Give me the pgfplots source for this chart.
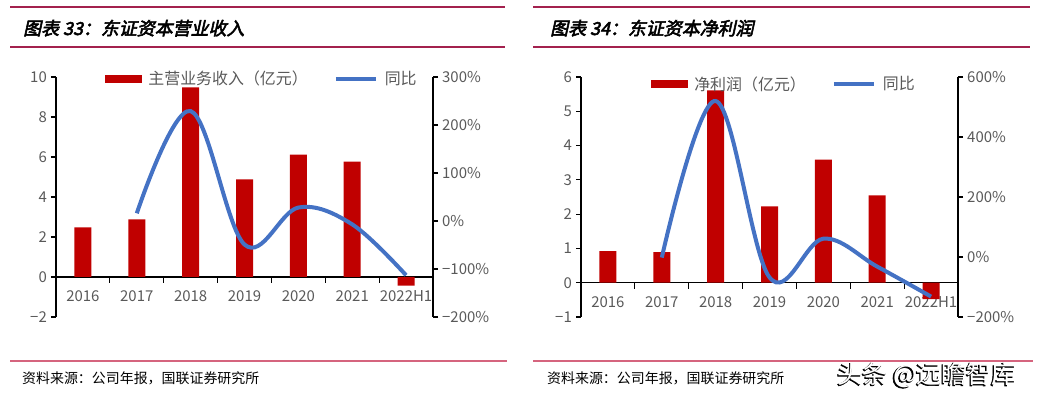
\documentclass[border=0pt]{standalone}
\usepackage{pgfplots}
\pgfplotsset{compat=1.18}
\usepackage{fontspec}
\setmainfont{Noto Sans CJK SC}
\newfontfamily\titlefont[FakeSlant=0.22,FakeBold=3]{Noto Sans CJK SC}
\newfontfamily\wmfont[FakeBold=2.5]{Noto Sans CJK SC}
\definecolor{barred}{HTML}{C00000}
\definecolor{lineblue}{HTML}{4472C4}
\definecolor{txtgray}{HTML}{595959}
\definecolor{hdrred}{HTML}{A3214E}
\definecolor{srcred}{HTML}{D5647E}

\pgfplotsset{
  common/.style={
    scale only axis, width=377bp, height=240bp,
    xmin=-0.5, xmax=6.5,
    axis line style={black, line width=1.1bp},
    tick style={black, line width=1.1bp},
    tick align=outside,
    major tick length=5bp,
    minor tick length=6bp,
    ticklabel style={font=\fontsize{15}{18}\selectfont, text=txtgray},
    yticklabel style={inner sep=4bp},
    clip=false,
  },
  barax/.style={
    common, axis y line*=left, axis x line*=middle,
    xtick={0,...,6}, xticklabels={2016,2017,2018,2019,2020,2021,2022H1},
    major x tick style={draw=none},
    minor xtick={0.5,1.5,2.5,3.5,4.5,5.5},
    xticklabel style={yshift=-5bp},
    ybar, bar width=17bp,
  },
  lineax/.style={
    common, axis y line*=right, axis x line=none,
    legend cell align=left,
    legend style={draw=none, fill=none, legend columns=2,
      font=\fontsize{16}{19}\selectfont, text=txtgray,
      /tikz/every odd column/.append style={column sep=5bp},
      /tikz/every even column/.append style={column sep=24bp}},
  },
}

\begin{document}
\begin{tikzpicture}
\path[use as bounding box] (0,0) rectangle (1040bp,398bp);

% ---------- headers ----------
\draw[hdrred, line width=1.2bp] (10bp,391bp) -- (505bp,391bp);
\draw[hdrred, line width=2bp] (10bp,351bp) -- (505bp,351bp);
\node[anchor=base west, inner sep=0pt, font=\titlefont\fontsize{18}{21}\selectfont] at (23bp,363bp) {图表 33：东证资本营业收入};
\draw[hdrred, line width=1.2bp] (533bp,391bp) -- (1030bp,391bp);
\draw[hdrred, line width=2bp] (533bp,351bp) -- (1030bp,351bp);
\node[anchor=base west, inner sep=0pt, font=\titlefont\fontsize{18}{21}\selectfont] at (550bp,363bp) {图表 34：东证资本净利润};

% ---------- footers ----------
\draw[srcred, line width=1.2bp] (10bp,37bp) -- (507bp,37bp);
\draw[srcred, line width=1.2bp] (533bp,37bp) -- (1033bp,37bp);
\node[anchor=base west, inner sep=0pt, font=\fontsize{14}{16}\selectfont] at (22bp,15bp) {资料来源：公司年报，国联证券研究所};
\node[anchor=base west, inner sep=0pt, font=\fontsize{14}{16}\selectfont] at (547bp,15bp) {资料来源：公司年报，国联证券研究所};
\node[anchor=base west, inner sep=0pt, font=\wmfont\fontsize{25}{30}\selectfont, text=black] at (836bp,14bp) {头条 @远瞻智库};
\node[anchor=base west, inner sep=0pt, font=\fontsize{25}{30}\selectfont, text=white] at (837.5bp,14.5bp) {头条 @远瞻智库};

% ---------- left chart ----------
\begin{axis}[barax, at={(56bp,81bp)}, anchor=south west,
  ymin=-2, ymax=10, ytick={-2,0,2,4,6,8,10}, yticklabels={−2,0,2,4,6,8,10}]
\addplot[fill=barred, draw=none] coordinates {(0,2.48) (1,2.88) (2,9.48) (3,4.88) (4,6.12) (5,5.77) (6,-0.43)};
\end{axis}
\begin{axis}[lineax, at={(56bp,81bp)}, anchor=south west,
  ymin=-200, ymax=300, ytick={-200,-100,0,100,200,300},
  yticklabels={−200\%,−100\%,0\%,100\%,200\%,300\%},
  legend style={at={(0.546,0.992)}, anchor=center}]
\addlegendimage{legend image code/.code={\fill[barred] (0bp,-3.5bp) rectangle (36bp,3.5bp);}}
\addlegendentry{主营业务收入（亿元）}
\addplot[lineblue, line width=4bp, smooth, tension=0.6,
  legend image code/.code={\draw[lineblue,line width=4bp] (0bp,0bp) -- (40bp,0bp);}]
  coordinates {(1,16) (2,229) (3,-49) (4,28) (5,-7) (6,-113)};
\addlegendentry{同比}
\end{axis}

% ---------- right chart ----------
\begin{axis}[barax, at={(581bp,81bp)}, anchor=south west,
  ymin=-1, ymax=6, ytick={-1,0,1,2,3,4,5,6}, yticklabels={−1,0,1,2,3,4,5,6}]
\addplot[fill=barred, draw=none] coordinates {(0,0.92) (1,0.89) (2,5.61) (3,2.23) (4,3.59) (5,2.55) (6,-0.48)};
\end{axis}
\begin{axis}[lineax, at={(581bp,81bp)}, anchor=south west,
  ymin=-200, ymax=600, ytick={-200,0,200,400,600},
  yticklabels={−200\%,0\%,200\%,400\%,600\%},
  legend style={at={(0.538,0.971)}, anchor=center}]
\addlegendimage{legend image code/.code={\fill[barred] (0bp,-3.5bp) rectangle (36bp,3.5bp);}}
\addlegendentry{净利润（亿元）}
\addplot[lineblue, line width=4bp, smooth, tension=0.6,
  legend image code/.code={\draw[lineblue,line width=4bp] (0bp,0bp) -- (40bp,0bp);}]
  coordinates {(1,-2) (2,520) (3,-68) (4,61) (5,-32) (6,-132)};
\addlegendentry{同比}
\end{axis}
\end{tikzpicture}
\end{document}
